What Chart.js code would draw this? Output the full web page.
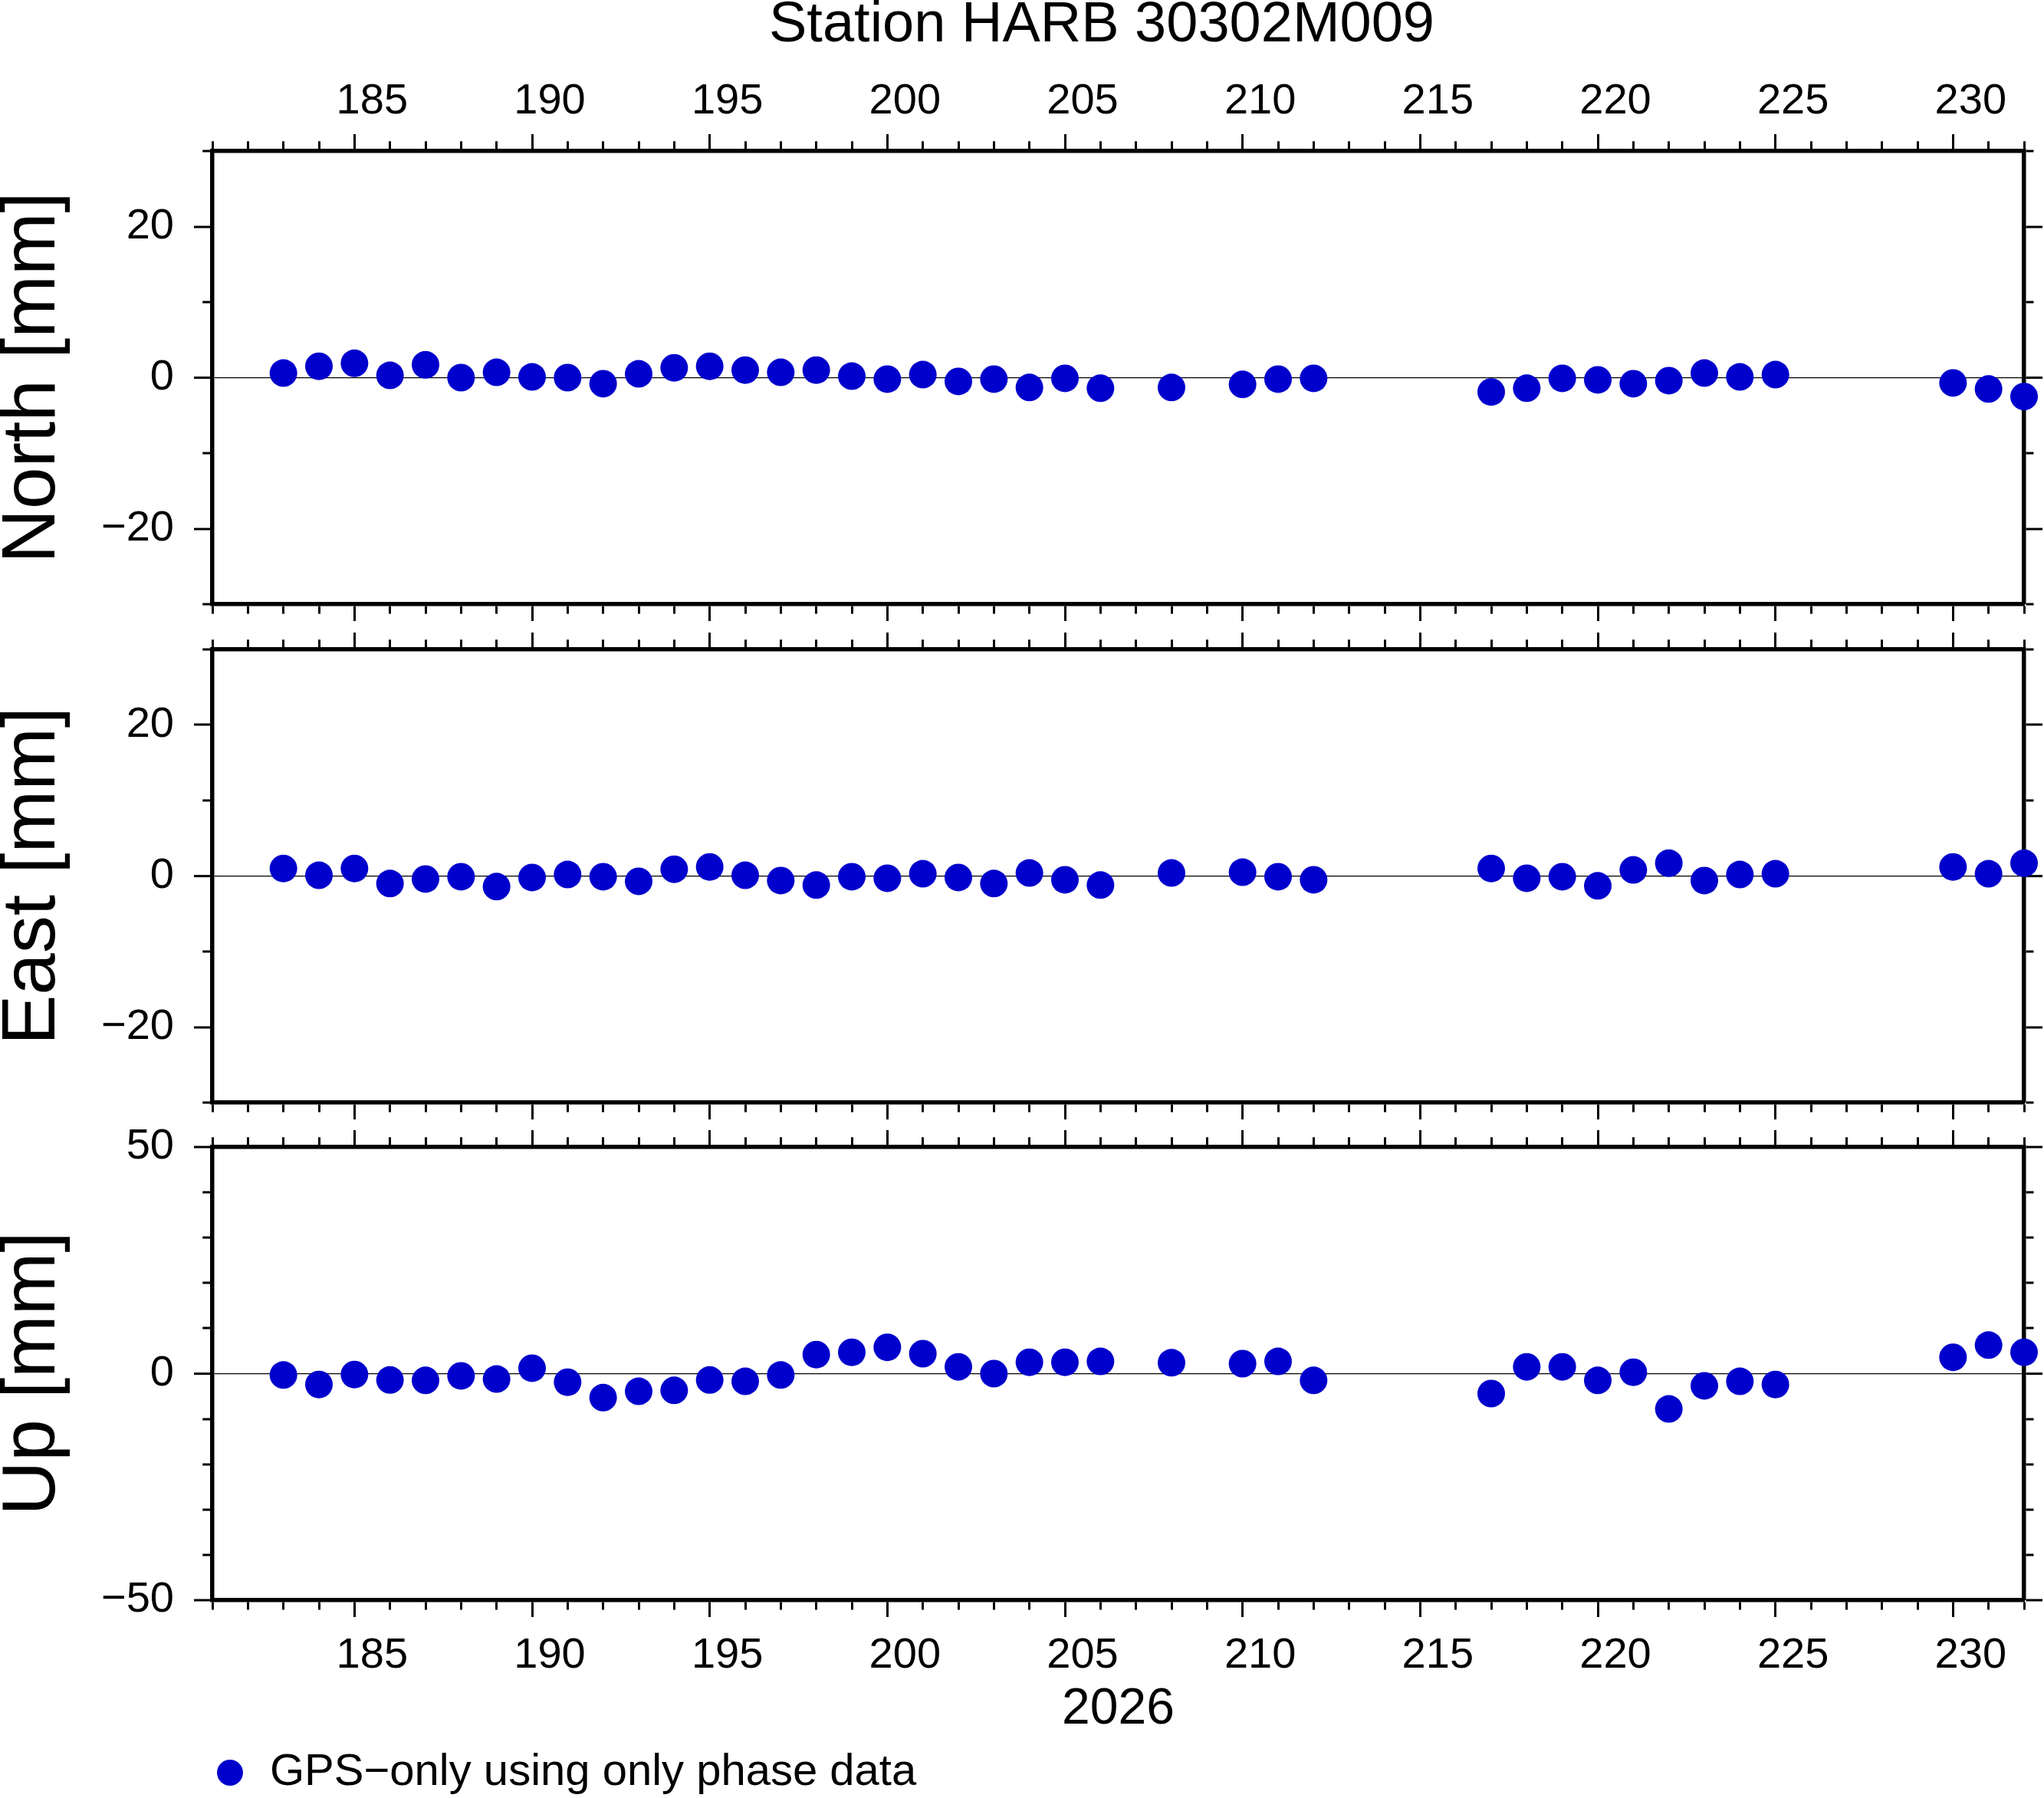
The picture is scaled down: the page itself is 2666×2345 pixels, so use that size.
<!DOCTYPE html>
<html>
<head>
<meta charset="utf-8">
<title>Station HARB 30302M009</title>
<script src="https://cdn.jsdelivr.net/npm/chart.js@4.4.1/dist/chart.umd.min.js"></script>
<style>
  html, body { margin: 0; padding: 0; background: #fff; overflow: hidden; }
  #wrap { position: relative; width: 2666px; height: 2345px; overflow: hidden; background: #fff; }
  canvas { position: absolute; left: 0; }
</style>
</head>
<body>
<div id="wrap">
  <canvas id="north" width="2874" height="818" style="top:0px"></canvas>
  <canvas id="east" width="2666" height="649" style="top:818px"></canvas>
  <canvas id="up" width="2666" height="884" style="top:1467px"></canvas>
</div>
<script>
// day of year 2026
const days = [183, 184, 185, 186, 187, 188, 189, 190, 191, 192, 193, 194, 195, 196, 197, 198, 199, 200, 201, 202, 203, 204, 205, 206,
  208, 210, 211, 212, 217, 218, 219, 220, 221, 222, 223, 224, 225, 230, 231, 232];

// residuals in mm
const north = [0.6, 1.5, 1.9, 0.3, 1.7, 0.0, 0.7, 0.1, 0.0, -0.8, 0.5, 1.3, 1.5, 1.0, 0.7, 1.0, 0.2, -0.2, 0.4, -0.5, -0.2, -1.3, -0.1, -1.4,
  -1.3, -0.9, -0.2, -0.1, -1.9, -1.4, -0.1, -0.3, -0.8, -0.4, 0.6, 0.1, 0.4, -0.7, -1.5, -2.5];
const east = [1.0, 0.1, 1.0, -1.0, -0.4, -0.1, -1.4, -0.2, 0.2, -0.1, -0.7, 0.9, 1.2, 0.1, -0.6, -1.2, -0.1, -0.3, 0.3, -0.2, -1.0, 0.4, -0.5, -1.2,
  0.4, 0.5, -0.1, -0.5, 1.0, -0.3, -0.1, -1.3, 0.8, 1.7, -0.6, 0.2, 0.3, 1.2, 0.3, 1.7];
const up = [-0.3, -2.4, -0.2, -1.4, -1.5, -0.5, -1.2, 1.2, -1.9, -5.3, -3.9, -3.7, -1.4, -1.7, -0.3, 4.2, 4.7, 5.8, 4.4, 1.5, 0.0, 2.5, 2.5, 2.7,
  2.4, 2.2, 2.7, -1.5, -4.4, 1.5, 1.5, -1.5, 0.3, -7.8, -2.7, -1.7, -2.4, 3.6, 6.3, 4.7];

const seriesLabel = 'GPS\u2212only using only phase data';
const titleText = 'Station HARB 30302M009';
const yearText = '2026';
const panelTitles = ['North [mm]', 'East [mm]', 'Up [mm]'];

const FONT = '"Liberation Sans", Arial, Helvetica, sans-serif';
const DOT = '#0000cc';
const FRAME = 5.5;
const XTICK = 22, YTICK = 24, MINOR = 10;

function minus(v) {
  return v < 0 ? '\u2212' + Math.abs(v) : String(v);
}

// minor ticks are shortened with a dash pattern; top/left ticks are stroked from the outer end
function tickDash(len, major, outerFirst) {
  if (major) return [];
  const L = len - FRAME / 2;
  return outerFirst ? [0, L - MINOR, MINOR, 1000] : [MINOR, 1000];
}

function xScale(position, height, labels, title) {
  return {
    type: 'linear',
    position: position,
    min: 181,
    max: 232,
    afterFit: function(s) {
      s.height = height;
      s.paddingLeft = 0;
      s.paddingRight = 0;
    },
    border: { display: true, color: '#000', width: FRAME },
    grid: {
      drawOnChartArea: false,
      drawTicks: true,
      tickLength: XTICK,
      tickColor: '#000',
      tickWidth: 3,
      tickBorderDash: c => c.tick ? tickDash(XTICK, Math.round(c.tick.value) % 5 === 0, position === 'top') : []
    },
    ticks: {
      display: labels,
      stepSize: 1,
      autoSkip: false,
      maxRotation: 0,
      minRotation: 0,
      labelOffset: 23,
      padding: position === 'top' ? 9 : 17,
      color: '#000',
      font: { family: FONT, size: 56 },
      callback: v => Math.round(v) % 5 === 0 ? String(Math.round(v)) : ''
    },
    title: {
      display: !!title,
      text: title || '',
      color: '#000',
      font: { family: FONT, size: 66, lineHeight: 1.2 },
      padding: { top: 0, bottom: 14 }
    }
  };
}

function yScale(position, range, majorStep, width, title) {
  const left = position === 'left';
  return {
    type: 'linear',
    position: position,
    min: -range,
    max: range,
    afterFit: function(s) {
      s.width = width;
      s.paddingTop = 0;
      s.paddingBottom = 0;
    },
    border: { display: true, color: '#000', width: FRAME },
    grid: {
      drawOnChartArea: left,
      color: c => (c.tick && c.tick.value === 0) ? '#000' : 'rgba(0,0,0,0)',
      lineWidth: c => (c.tick && c.tick.value === 0) ? 1.25 : 0,
      drawTicks: true,
      tickLength: YTICK,
      tickColor: '#000',
      tickWidth: 3,
      tickBorderDash: c => c.tick ? tickDash(YTICK, Math.round(c.tick.value) % majorStep === 0, left) : []
    },
    ticks: {
      display: left,
      stepSize: 10,
      autoSkip: false,
      padding: 26,
      color: '#000',
      font: { family: FONT, size: 56 },
      callback: v => Math.round(v) % majorStep === 0 ? minus(Math.round(v)) : ''
    },
    title: {
      display: left,
      text: title,
      color: '#000',
      font: { family: FONT, size: 98, lineHeight: 0.9 },
      padding: 0
    }
  };
}

function dataset(values) {
  return {
    label: seriesLabel,
    data: days.map((d, i) => ({ x: d, y: values[i] })),
    xAxisID: 'x',
    yAxisID: 'y',
    showLine: false,
    pointStyle: 'circle',
    pointRadius: 18,
    pointHoverRadius: 18,
    pointBackgroundColor: DOT,
    backgroundColor: DOT,
    borderColor: DOT,
    pointBorderWidth: 0,
    borderWidth: 0,
    clip: false
  };
}

function baseOptions() {
  return {
    responsive: false,
    animation: false,
    devicePixelRatio: 1,
    events: [],
    layout: { padding: 0, autoPadding: false },
    plugins: {
      legend: { display: false },
      tooltip: { enabled: false },
      title: { display: false }
    }
  };
}

// North panel (carries the title and the top day labels)
const optN = baseOptions();
optN.plugins.title = {
  display: true,
  text: titleText,
  color: '#000',
  font: { family: FONT, size: 74, weight: 'normal', lineHeight: 0.9 },
  padding: 0
};
optN.scales = {
  x: xScale('top', 197 - 74 * 0.9, true),
  x2: xScale('bottom', 30, false),
  y: yScale('left', 30, 20, 277, panelTitles[0]),
  y2: yScale('right', 30, 20, 2874 - 2640, panelTitles[0])
};
new Chart(document.getElementById('north'), {
  type: 'scatter',
  data: { datasets: [dataset(north)] },
  options: optN
});

// East panel
const optE = baseOptions();
optE.scales = {
  x: xScale('top', 29, false),
  x2: xScale('bottom', 29, false),
  y: yScale('left', 30, 20, 277, panelTitles[1]),
  y2: yScale('right', 30, 20, 26, panelTitles[1])
};
new Chart(document.getElementById('east'), {
  type: 'scatter',
  data: { datasets: [dataset(east)] },
  options: optE
});

// Up panel (carries bottom day labels, year and legend)
const optU = baseOptions();
optU.plugins.legend = {
  display: true,
  position: 'bottom',
  align: 'start',
  fullSize: false,
  labels: {
    usePointStyle: true,
    pointStyle: 'circle',
    boxWidth: 46,
    boxHeight: 24,
    padding: 0,
    color: '#000',
    font: { family: FONT, size: 58 }
  }
};
optU.scales = {
  x: xScale('bottom', 196, true, yearText),
  x2: xScale('top', 29, false),
  y: yScale('left', 50, 50, 277, panelTitles[2]),
  y2: yScale('right', 50, 50, 26, panelTitles[2])
};
new Chart(document.getElementById('up'), {
  type: 'scatter',
  data: { datasets: [dataset(up)] },
  options: optU
});
</script>
</body>
</html>
